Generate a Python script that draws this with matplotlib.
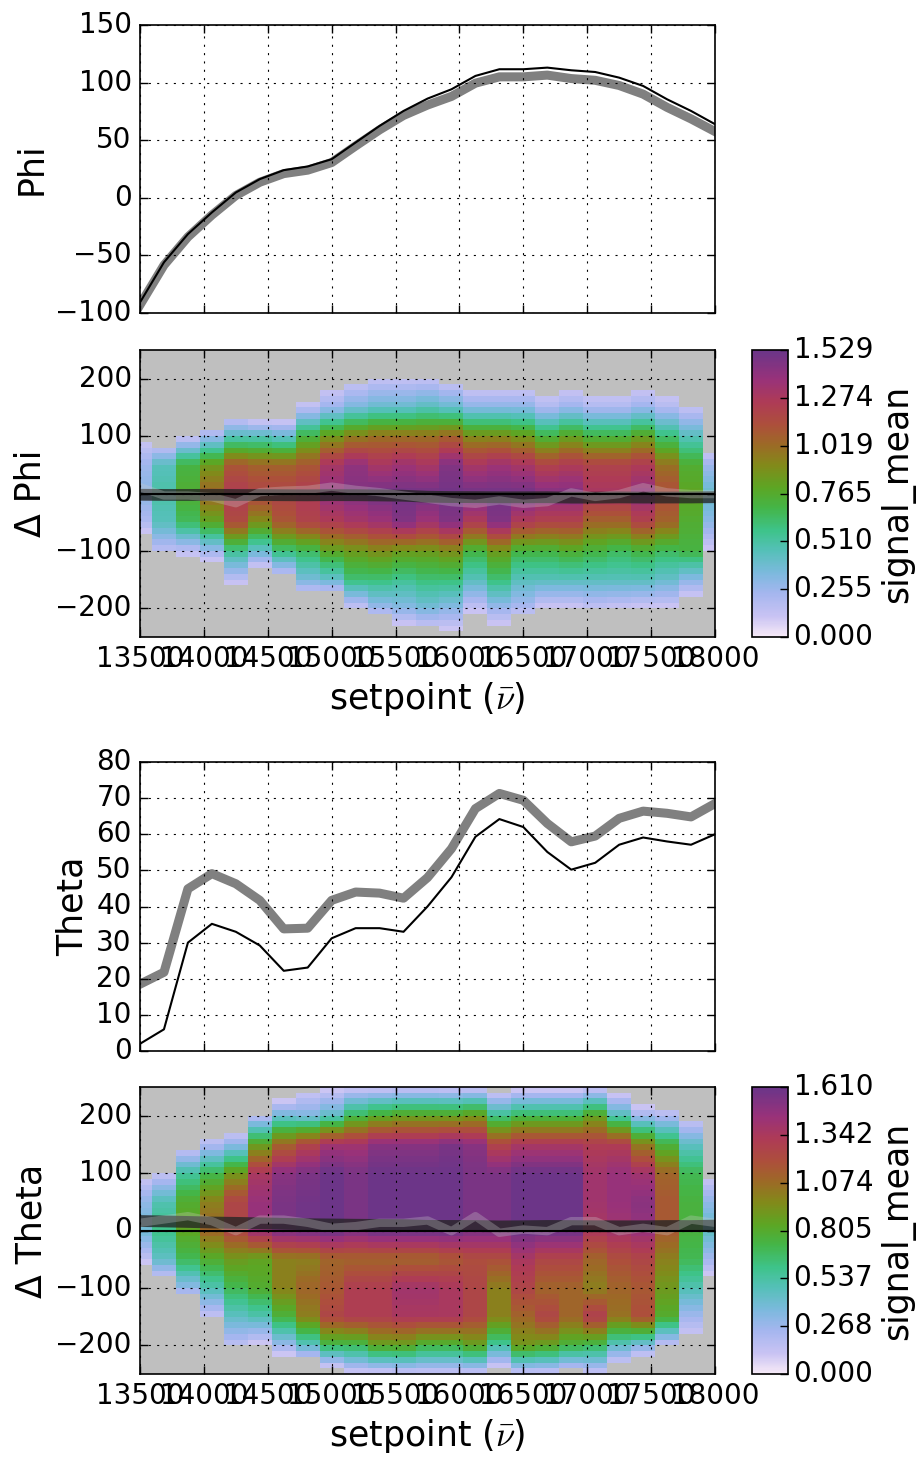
import matplotlib
matplotlib.use("Agg")
import numpy as np
import matplotlib.pyplot as plt
from matplotlib.colors import LinearSegmentedColormap

plt.style.use("classic")

setpoint = [13500.0, 13687.5, 13875.0, 14062.5, 14250.0, 14437.5, 14625.0, 14812.5,
            15000.0, 15187.5, 15375.0, 15562.5, 15750.0, 15937.5, 16125.0, 16312.5,
            16500.0, 16687.5, 16875.0, 17062.5, 17250.0, 17437.5, 17625.0, 17812.5, 18000.0]

# top panels: fitted (black) and measured (thick gray)
phi_fit = [-90.8, -56, -31.5, -12.7, 4.6, 16.2, 24, 27.2, 33.5, 48, 62.4, 75.4, 86.1,
           94.2, 105.8, 111.6, 111.6, 113, 110.7, 109.2, 104.3, 97.1, 85.5, 75.4, 63.9]
phi_meas = [-93, -58.5, -34, -15, 2, 13.5, 21, 24, 30.6, 45, 59, 71.5, 80.5,
            88, 99.5, 105, 105, 106.5, 103.5, 102, 97.5, 90, 78.5, 68.5, 57.5]
theta_fit = [2, 6, 30, 35.2, 33, 29.2, 22.2, 23.1, 31.2, 34, 34, 33, 40,
             48.1, 59.3, 64.2, 62, 55.1, 50.2, 52.1, 57.1, 59.1, 58, 57.1, 60]
theta_meas = [18.5, 21.8, 44.9, 49.1, 46.3, 41.7, 33.8, 34, 41.7, 44, 43.7, 42.3, 48,
              56, 67.1, 71.3, 69.4, 63, 57.9, 59.5, 64.4, 66.4, 65.8, 64.8, 68.5]

# per-point residuals (light trace in the delta panels)
dphi_resid = [11, -3.5, -3.5, -6.4, -17, 2.3, 5, 6.4, 12, 6.4, 2.3, -3.5, -9,
              -15, -18, -12, -18, -15, 2, -6, -1, 11, 2, -1, -1]
dtheta_resid = [13.4, 19.2, 25, 16.3, -1.2, 19, 19, 13.4, 4.7, 7.6, 13.4, 13.4, 17.5,
                -1.2, 25, -4, 1.7, -1.2, 16.3, 16.3, -1.2, 4.7, -1.2, 19, 13.4]

# signal_mean maps: extent of each column and value at knot heights
knot_y = [200, 150, 100, 50, 0, -50, -100, -150, -200]
N = None

phi_top = [94, 84, 101, 113, 133, 127, 127, 162, 183, 195, 203, 203, 203,
           195, 183, 183, 183, 174, 183, 174, 174, 183, 174, 154, 72]
phi_bot = [-67, -105, -109, -117, -158, -128, -145, -175, -175, -200, -215, -227, -234,
           -236, -210, -227, -215, -197, -197, -203, -200, -197, -197, -178, -98]
phi_profile = [
    [N, N, N, .25, .3, .2, N, N, N],
    [N, N, N, .45, .5, .45, .15, N, N],
    [N, N, .1, .7, .75, .65, .15, N, N],
    [N, N, .25, .85, 1.05, .8, .25, N, N],
    [N, N, .45, 1.1, 1.25, 1.15, .55, .15, N],
    [N, N, .45, 1.05, 1.2, .9, .4, N, N],
    [N, N, .4, 1.05, 1.2, 1.1, .6, N, N],
    [N, .15, .7, 1.1, 1.25, 1.2, .65, .35, N],
    [N, .25, .85, 1.3, 1.4, 1.25, .8, .4, N],
    [N, .35, .95, 1.4, 1.45, 1.3, .85, .6, N],
    [.12, .4, 1.0, 1.3, 1.5, 1.35, .9, .6, .25],
    [.12, .4, 1.0, 1.35, 1.5, 1.45, .85, .55, .3],
    [.12, .45, 1.0, 1.3, 1.5, 1.35, .85, .6, .35],
    [N, .4, 1.05, 1.45, 1.5, 1.45, .9, .6, .3],
    [N, .3, .9, 1.3, 1.5, 1.25, .7, .45, .12],
    [N, .3, .9, 1.35, 1.5, 1.45, .85, .6, .25],
    [N, .3, .85, 1.3, 1.5, 1.25, .7, .45, .2],
    [N, .2, .7, 1.2, 1.45, 1.2, .7, .45, N],
    [N, .25, .8, 1.25, 1.45, 1.2, .75, .45, N],
    [N, .2, .7, 1.2, 1.3, 1.05, .7, .45, .12],
    [N, .2, .7, 1.2, 1.3, 1.05, .65, .45, N],
    [N, .25, .8, 1.25, 1.4, 1.2, .7, .45, N],
    [N, .18, .6, 1.0, 1.15, 1.05, .65, .4, N],
    [N, .12, .45, .75, .8, .75, .7, .3, N],
    [N, N, N, .25, .4, .3, N, N, N],
]

theta_top = [95, 104, 144, 165, 173, 205, 226, 243, 246, 249, 249, 250, 250,
             249, 249, 240, 246, 246, 246, 249, 237, 217, 214, 194, 95]
theta_bot = [-56, -85, -115, -155, -205, -196, -216, -225, -237, -248, -248, -250, -250,
             -250, -250, -237, -250, -250, -245, -250, -231, -219, -202, -184, -77]
theta_profile = [
    [N, N, N, .3, .4, .15, N, N, N],
    [N, N, N, .5, .6, .45, N, N, N],
    [N, N, .55, .8, .85, .7, .3, N, N],
    [N, .2, .7, 1.0, 1.1, .8, .5, .12, N],
    [N, .3, .9, 1.25, 1.25, .9, .7, .45, .15],
    [.15, .85, 1.35, 1.45, 1.45, .85, .8, .5, N],
    [.4, 1.1, 1.5, 1.55, 1.55, 1.0, 1.0, .75, .27],
    [.35, 1.25, 1.55, 1.58, 1.58, 1.0, 1.1, 1.0, .45],
    [.45, 1.4, 1.6, 1.6, 1.6, 1.1, 1.15, 1.25, .7],
    [.7, 1.4, 1.55, 1.55, 1.55, 1.1, 1.3, 1.3, .7],
    [.8, 1.5, 1.6, 1.6, 1.6, 1.1, 1.3, 1.3, .85],
    [.85, 1.5, 1.6, 1.6, 1.6, 1.1, 1.4, 1.35, .85],
    [.85, 1.5, 1.6, 1.6, 1.6, 1.1, 1.4, 1.35, .75],
    [.85, 1.55, 1.6, 1.6, 1.6, 1.15, 1.35, 1.35, .75],
    [.9, 1.5, 1.55, 1.55, 1.55, 1.2, 1.25, 1.25, .85],
    [.6, 1.25, 1.55, 1.55, 1.55, 1.2, 1.0, 1.0, .55],
    [.7, 1.35, 1.6, 1.6, 1.6, 1.35, 1.25, 1.1, .9],
    [.7, 1.35, 1.6, 1.6, 1.6, 1.25, 1.1, 1.25, .85],
    [.7, 1.35, 1.6, 1.6, 1.6, 1.25, 1.1, 1.1, .75],
    [.85, 1.3, 1.4, 1.4, 1.35, 1.1, 1.0, 1.3, .7],
    [.5, 1.3, 1.45, 1.45, 1.4, 1.2, 1.1, 1.05, .45],
    [.25, 1.0, 1.4, 1.5, 1.45, 1.25, 1.15, 1.2, .35],
    [.2, .75, 1.1, 1.15, 1.15, 1.0, .9, .8, N],
    [N, .45, .7, .75, .75, .7, .5, .25, N],
    [N, N, N, .3, .45, .25, N, N, N],
]
phi_vmax = 1.5292
theta_vmax = 1.6104
EDGE = 0.1

cmap = LinearSegmentedColormap.from_list("sig", [
    (0.00, "#f7eaf7"), (0.07, "#c9c3f3"), (0.15, "#a5b6ef"), (0.22, "#7db9de"),
    (0.30, "#55c0b8"), (0.37, "#3ec38a"), (0.45, "#44b548"), (0.52, "#5ca624"),
    (0.60, "#83891a"), (0.67, "#9c6a26"), (0.74, "#ad4f3b"), (0.82, "#ae3b56"),
    (0.90, "#98327a"), (1.00, "#6a3589")])

rows = np.arange(-245, 250, 10)
sp = np.array(setpoint)
xe = np.concatenate([[sp[0] - (sp[1] - sp[0]) / 2], (sp[:-1] + sp[1:]) / 2,
                     [sp[-1] + (sp[-1] - sp[-2]) / 2]])
ye = np.arange(-250, 251, 10)


def heat_grid(top, bot, profile):
    grid = np.full((len(rows), len(top)), np.nan)
    for j in range(len(top)):
        ys, vs = [bot[j]], [EDGE]
        for k, v in zip(knot_y[::-1], profile[j][::-1]):
            if v is not None:
                ys.append(k)
                vs.append(v)
        ys.append(top[j])
        vs.append(EDGE)
        inside = (rows > bot[j]) & (rows < top[j])
        grid[inside, j] = np.interp(rows[inside], ys, vs)
    return np.ma.masked_invalid(grid)


TICK = 20
LAB = 25
W, H = 920.0, 1461.0
fig = plt.figure(figsize=(9.2, 14.61), dpi=100, facecolor="white")


def rect(l, t, r, b):
    return [l / W, 1 - b / H, (r - l) / W, (b - t) / H]


def style(ax):
    ax.set_xlim(13500, 18000)
    ax.set_xticks(np.arange(13500, 18001, 500))
    ax.grid(True, color="k", linestyle=(0, (1.5, 4.5)), linewidth=0.8)
    ax.tick_params(labelsize=TICK, length=6, width=1, direction="in",
                   top=True, right=True, pad=6)
    for s in ax.spines.values():
        s.set_linewidth(1.2)


def line_panel(r, fit, meas, ylim, yticks, label):
    ax = fig.add_axes(rect(*r))
    ax.plot(setpoint, meas, color="0.5", lw=6.5, solid_joinstyle="round")
    ax.plot(setpoint, fit, color="k", lw=1.5)
    ax.set_ylim(*ylim)
    ax.set_yticks(yticks)
    style(ax)
    ax.tick_params(labelbottom=False)
    ax.set_ylabel(label, fontsize=LAB)
    return ax


def heat_panel(r, cr, top, bot, profile, vmax, fit, meas, resid, label):
    ax = fig.add_axes(rect(*r))
    ax.set_facecolor("#bfbfbf")
    mesh = ax.pcolormesh(xe, ye, heat_grid(top, bot, profile), cmap=cmap,
                         vmin=0, vmax=vmax, edgecolors="none", antialiased=False)
    delta = np.array(meas) - np.array(fit)
    ax.plot(setpoint, delta, color="0.15", alpha=0.8, lw=8.5)
    ax.plot(setpoint, resid, color="0.8", alpha=0.3, lw=6)
    ax.plot(setpoint, np.zeros(len(setpoint)), color="k", lw=1.5)
    ax.set_ylim(-250, 250)
    ax.set_yticks([-200, -100, 0, 100, 200])
    style(ax)
    ax.set_ylabel(label, fontsize=LAB)
    ax.set_xlabel(r"setpoint ($\bar{\nu}$)", fontsize=LAB)
    cax = fig.add_axes(rect(*cr))
    cb = fig.colorbar(mesh, cax=cax, ticks=np.linspace(0, vmax, 7), format="%.3f")
    cb.ax.tick_params(labelsize=TICK, length=6, width=1)
    cb.outline.set_linewidth(1.2)
    cb.set_label("signal_mean", fontsize=LAB)
    return ax


line_panel((140, 25, 715, 313), phi_fit, phi_meas, (-100, 150),
           np.arange(-100, 151, 50), "Phi")
heat_panel((140, 350, 715, 637), (752, 350, 788, 637), phi_top, phi_bot, phi_profile,
           phi_vmax, phi_fit, phi_meas, dphi_resid, "\u0394 Phi")
line_panel((140, 762, 715, 1051), theta_fit, theta_meas, (0, 80),
           np.arange(0, 81, 10), "Theta")
heat_panel((140, 1087, 715, 1374), (752, 1087, 788, 1374), theta_top, theta_bot,
           theta_profile, theta_vmax, theta_fit, theta_meas, dtheta_resid, "\u0394 Theta")

fig.savefig("out.png", dpi=100, facecolor="white")
